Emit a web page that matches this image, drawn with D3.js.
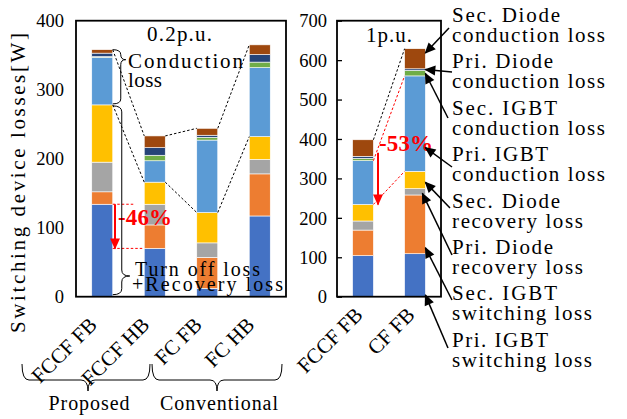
<!DOCTYPE html>
<html><head><meta charset="utf-8">
<script src="https://cdn.jsdelivr.net/npm/d3@7"></script>
<style>
html,body{margin:0;padding:0;background:#fff;}
svg{display:block;}
text{font-family:"Liberation Serif","Times New Roman",serif;}
</style></head>
<body><svg id="chart" width="627" height="419"></svg>
<script>
// ---------- DATA ----------
const categoriesLeft = ["FCCF FB", "FCCF HB", "FC FB", "FC HB"];
const categoriesRight = ["FCCF FB", "CF FB"];
const seriesNames = ["Pri. IGBT switching loss", "Sec. IGBT switching loss", "Pri. Diode recovery loss", "Sec. Diode recovery loss",
  "Pri. IGBT conduction loss", "Sec. IGBT conduction loss", "Pri. Diode conduction loss", "Sec. Diode conduction loss"];
const priIgbtSwitchingLeft   = [134, 70, 12, 117];
const secIgbtSwitchingLeft   = [18, 34, 45, 61];
const priDiodeRecoveryLeft   = [43, 30, 21, 21];
const secDiodeRecoveryLeft   = [83, 32, 44, 33];
const priIgbtConductionLeft  = [69, 31, 105, 100];
const secIgbtConductionLeft  = [1, 8, 4, 8];
const priDiodeConductionLeft = [5, 11, 3, 11];
const secDiodeConductionLeft = [5, 17, 10, 14];
const priIgbtSwitchingRight   = [104, 109];
const secIgbtSwitchingRight   = [65, 149];
const priDiodeRecoveryRight   = [23, 16];
const secDiodeRecoveryRight   = [42, 44];
const priIgbtConductionRight  = [111, 242];
const secIgbtConductionRight  = [6, 14];
const priDiodeConductionRight = [5, 4];
const secDiodeConductionRight = [42, 51];
const ticksLeft = [0, 100, 200, 300, 400];
const ticksRight = [0, 100, 200, 300, 400, 500, 600, 700];
const legendLines = [["Sec. Diode", "conduction loss"], ["Pri. Diode", "conduction loss"], ["Sec. IGBT", "conduction loss"],
  ["Pri. IGBT", "conduction loss"], ["Sec. Diode", "recovery loss"], ["Pri. Diode", "recovery loss"],
  ["Sec. IGBT", "switching loss"], ["Pri. IGBT", "switching loss"]];
// value on CF FB bar at which each legend arrow points (top-to-bottom legend order)
const arrowTargets = [618, 576, 566, 378, 290, 262, 124, 4];
const colors = ["#4472C4", "#ED7D31", "#A5A5A5", "#FFC000", "#5B9BD5", "#70AD47", "#264478", "#9E480E"];

const leftSeries = [priIgbtSwitchingLeft, secIgbtSwitchingLeft, priDiodeRecoveryLeft, secDiodeRecoveryLeft,
  priIgbtConductionLeft, secIgbtConductionLeft, priDiodeConductionLeft, secDiodeConductionLeft];
const rightSeries = [priIgbtSwitchingRight, secIgbtSwitchingRight, priDiodeRecoveryRight, secDiodeRecoveryRight,
  priIgbtConductionRight, secIgbtConductionRight, priDiodeConductionRight, secDiodeConductionRight];

function toRows(cats, series) {
  return cats.map((c, i) => { const r = {cat: c}; seriesNames.forEach((s, k) => r[s] = series[k][i]); return r; });
}
const rowsLeft = toRows(categoriesLeft, leftSeries);
const rowsRight = toRows(categoriesRight, rightSeries);
const stack = d3.stack().keys(seriesNames);
const stackedLeft = stack(rowsLeft);
const stackedRight = stack(rowsRight);

// ---------- LAYOUT ----------
const svg = d3.select("#chart");
const yTop = 20.7, yBot = 296.7;
const xL = d3.scaleBand().domain(categoriesLeft).range([76, 286]).paddingInner(0.6).paddingOuter(0.3);
const xR = d3.scaleBand().domain(categoriesRight).range([337, 441]).paddingInner(0.6).paddingOuter(0.3);
const yL = d3.scaleLinear().domain([0, 400]).range([yBot, yTop]);
const yR = d3.scaleLinear().domain([0, 700]).range([yBot, yTop]);
const FONT = "Liberation Serif, Times New Roman, serif";

const defs = svg.append("defs");
defs.append("marker").attr("id", "arrB").attr("viewBox", "0 0 10 10").attr("refX", 9).attr("refY", 5)
  .attr("markerWidth", 13).attr("markerHeight", 11).attr("markerUnits", "userSpaceOnUse").attr("orient", "auto")
  .append("path").attr("d", "M0,0.5 L10,5 L0,9.5 Z").attr("fill", "#000");
defs.append("marker").attr("id", "arrR").attr("viewBox", "0 0 10 10").attr("refX", 9).attr("refY", 5)
  .attr("markerWidth", 12).attr("markerHeight", 11).attr("markerUnits", "userSpaceOnUse").attr("orient", "auto")
  .append("path").attr("d", "M0,0.5 L10,5 L0,9.5 Z").attr("fill", "#f00");

function drawBars(stacked, x, y) {
  const g = svg.append("g");
  stacked.forEach((layer, k) => {
    g.selectAll(null).data(layer).enter().append("rect")
      .attr("x", d => x(d.data.cat)).attr("width", x.bandwidth())
      .attr("y", d => y(d[1])).attr("height", d => y(d[0]) - y(d[1]))
      .attr("fill", colors[k]).attr("stroke", "#fff").attr("stroke-width", 0.6);
  });
}
drawBars(stackedLeft, xL, yL);
drawBars(stackedRight, xR, yR);

// axes
const axL = svg.append("g").attr("transform", "translate(76,0)")
  .call(d3.axisLeft(yL).tickValues(ticksLeft).tickSize(0).tickPadding(12));
const axR = svg.append("g").attr("transform", "translate(337,0)")
  .call(d3.axisLeft(yR).tickValues(ticksRight).tickSize(-5).tickPadding(10));
[axL, axR].forEach(a => {
  a.attr("font-family", null);
  a.select(".domain").remove();
  a.selectAll("text").style("font-family", FONT).attr("font-size", 18.5).attr("fill", "#000").attr("dy", "0.34em");
  a.selectAll("line").attr("stroke", "#000").attr("stroke-width", 1.3);
});

// frames
svg.append("rect").attr("x", 76).attr("y", yTop).attr("width", 210).attr("height", yBot - yTop)
  .attr("fill", "none").attr("stroke", "#000").attr("stroke-width", 1.8);
svg.append("rect").attr("x", 337).attr("y", yTop).attr("width", 104).attr("height", yBot - yTop)
  .attr("fill", "none").attr("stroke", "#000").attr("stroke-width", 1.8);

// x category labels (rotated)
function catLabels(cats, x, dx, yy) {
  svg.append("g").selectAll("text").data(cats).enter().append("text")
    .attr("transform", d => `translate(${x(d) + x.bandwidth() / 2 + dx},${yy}) rotate(-45)`)
    .attr("text-anchor", "end").style("font-family", FONT).attr("font-size", 21).attr("fill", "#000")
    .text(d => d);
}
catLabels(categoriesLeft, xL, -4, 326);
catLabels(categoriesRight, xR, 1, 316);

// y-axis title
svg.append("text").attr("transform", "translate(25,183) rotate(-90)").attr("text-anchor", "middle")
  .style("font-family", FONT).attr("font-size", 21).attr("textLength", 300).attr("lengthAdjust", "spacing")
  .text("Switching device losses[W]");

function cum(series, i, upto) { let s = 0; for (let k = 0; k <= upto; k++) s += series[k][i]; return s; }

// black dotted connectors
const dash = svg.append("g").attr("stroke", "#000").attr("stroke-width", 1).attr("stroke-dasharray", "2.5,2").attr("fill", "none");
for (let i = 0; i < 3; i++) {
  const xa = xL(categoriesLeft[i]) + xL.bandwidth(), xb = xL(categoriesLeft[i + 1]);
  [7, 3].forEach(k => {
    dash.append("line").attr("x1", xa).attr("y1", yL(cum(leftSeries, i, k)))
      .attr("x2", xb).attr("y2", yL(cum(leftSeries, i + 1, k)));
  });
}
{
  const xa = xR(categoriesRight[0]) + xR.bandwidth(), xb = xR(categoriesRight[1]);
  dash.append("line").attr("x1", xa).attr("y1", yR(cum(rightSeries, 0, 7))).attr("x2", xb).attr("y2", yR(cum(rightSeries, 1, 7)));
  const rd = svg.append("g").attr("stroke", "#f00").attr("stroke-width", 1).attr("stroke-dasharray", "2.5,2");
  [4, 3].forEach(k => {
    rd.append("line").attr("x1", xa).attr("y1", yR(cum(rightSeries, 0, k))).attr("x2", xb).attr("y2", yR(cum(rightSeries, 1, k)));
  });
  svg.append("line").attr("x1", 378).attr("x2", 378).attr("y1", yR(365)).attr("y2", yR(234))
    .attr("stroke", "#f00").attr("stroke-width", 2).attr("marker-end", "url(#arrR)");
  svg.append("text").attr("x", 379).attr("y", 151).style("font-family", FONT).attr("font-size", 23)
    .attr("font-weight", "bold").attr("fill", "#f00").attr("textLength", 54).attr("lengthAdjust", "spacing").text("-53%");
}

// left red annotation
{
  const xa = xL(categoriesLeft[0]) + xL.bandwidth();
  const rd = svg.append("g").attr("stroke", "#f00").attr("stroke-width", 1).attr("stroke-dasharray", "2.5,2");
  rd.append("line").attr("x1", xa).attr("x2", 135).attr("y1", yL(priIgbtSwitchingLeft[0])).attr("y2", yL(priIgbtSwitchingLeft[0]));
  rd.append("line").attr("x1", xa).attr("x2", xL(categoriesLeft[1])).attr("y1", yL(priIgbtSwitchingLeft[1])).attr("y2", yL(priIgbtSwitchingLeft[1]));
  svg.append("line").attr("x1", 115).attr("x2", 115).attr("y1", yL(priIgbtSwitchingLeft[0])).attr("y2", yL(priIgbtSwitchingLeft[1]))
    .attr("stroke", "#f00").attr("stroke-width", 2).attr("marker-end", "url(#arrR)");
  svg.append("text").attr("x", 118).attr("y", 225).style("font-family", FONT).attr("font-size", 23)
    .attr("font-weight", "bold").attr("fill", "#f00").attr("textLength", 54).attr("lengthAdjust", "spacing").text("-46%");
}

// vertical braces (left panel)
function vBrace(x0, xm, xt, y0, yt, y1, r) {
  return `M${x0},${y0} Q${xm},${y0} ${xm},${y0 + r} L${xm},${yt - r} Q${xm},${yt} ${xt},${yt} Q${xm},${yt} ${xm},${yt + r} L${xm},${y1 - r} Q${xm},${y1} ${x0},${y1}`;
}
const bx0 = xL(categoriesLeft[0]) + xL.bandwidth();
const topCond = yL(cum(leftSeries, 0, 7)), topRec = yL(cum(leftSeries, 0, 3));
svg.append("path").attr("d", vBrace(bx0, bx0 + 8, bx0 + 13, topCond, topCond + 10, topRec - 1, 5))
  .attr("fill", "none").attr("stroke", "#000").attr("stroke-width", 1);
svg.append("path").attr("d", vBrace(bx0, bx0 + 9, bx0 + 17, topRec + 1, 276, yL(0) - 2, 6))
  .attr("fill", "none").attr("stroke", "#000").attr("stroke-width", 1);

function txt(x, y, s, size, len, anchor) {
  const t = svg.append("text").attr("x", x).attr("y", y).style("font-family", FONT).attr("font-size", size)
    .attr("fill", "#000").attr("text-anchor", anchor || "start").text(s);
  if (len) t.attr("textLength", len).attr("lengthAdjust", "spacing");
  return t;
}
txt(147, 41, "0.2p.u.", 21, 65);
txt(366, 42, "1p.u.", 21, 46);
txt(128, 68, "Conduction", 21, 115);
txt(128, 87, "loss", 21, 34);
txt(135, 276, "Turn off loss", 20, 125);
txt(132, 291, "+Recovery loss", 20, 151);

// bottom braces
function hBrace(x0, x1, xm, y0, ym, yt, r) {
  return `M${x0},${y0} Q${x0},${ym} ${x0 + r},${ym} L${xm - r},${ym} Q${xm},${ym} ${xm},${yt} Q${xm},${ym} ${xm + r},${ym} L${x1 - r},${ym} Q${x1},${ym} ${x1},${y0}`;
}
svg.append("path").attr("d", hBrace(22, 150, 88, 364, 380, 391, 7)).attr("fill", "none").attr("stroke", "#000").attr("stroke-width", 1);
svg.append("path").attr("d", hBrace(152, 282, 217, 364, 380, 391, 7)).attr("fill", "none").attr("stroke", "#000").attr("stroke-width", 1);
txt(89, 410, "Proposed", 20, 81, "middle");
txt(219, 410, "Conventional", 20, 118, "middle");

// legend labels with arrows
const lg = svg.append("g");
const tipX = xR(categoriesRight[1]) + xR.bandwidth();
const arrowStarts = [[449, 28], [452, 72], [448, 118], [452, 167], [450, 208], [452, 255], [452, 300], [448, 348]];
const widthOf = {"Sec. Diode": 108, "Pri. Diode": 101, "Sec. IGBT": 105, "Pri. IGBT": 96,
  "conduction loss": 153, "recovery loss": 131, "switching loss": 140};
legendLines.forEach((ln, i) => {
  const yb = 22 + i * 46.4;
  [0, 1].forEach(j => {
    lg.append("text").attr("x", 452).attr("y", yb + j * 20).style("font-family", FONT).attr("font-size", 21)
      .attr("textLength", widthOf[ln[j]]).attr("lengthAdjust", "spacing").text(ln[j]);
  });
  lg.append("line").attr("x1", arrowStarts[i][0]).attr("y1", arrowStarts[i][1])
    .attr("x2", tipX - (i === 5 ? 3 : 0)).attr("y2", yR(arrowTargets[i]))
    .attr("stroke", "#000").attr("stroke-width", 1.5).attr("marker-end", "url(#arrB)");
});
</script></body></html>
